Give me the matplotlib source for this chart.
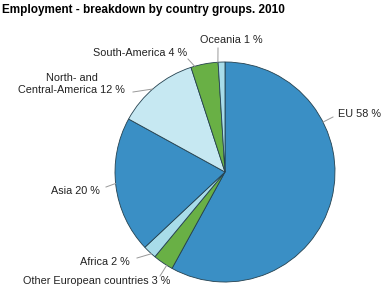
import numpy as np
import matplotlib.pyplot as plt

plt.rcParams['font.family'] = ['Liberation Sans', 'DejaVu Sans']

# data
groups = ['EU', 'Other European countries', 'Africa', 'Asia',
          'North- and\nCentral-America', 'South-America', 'Oceania']
shares = [58, 3, 2, 20, 12, 4, 1]
colors = ['#3a8fc5', '#69b045', '#a8dce9', '#3a8fc5', '#c6e8f2', '#69b045', '#a8dce9']

# label layout (pixel coords of the 381x290 canvas)
anchor_deg = [27, 238, 228, 186, 131, 106, 93.7]
tip = [(333, 117), (160, 276), (137, 258), (106, 187), (133, 92), (188, 59), (218, 48)]
text_xy = [(338, 114), (170, 281), (130, 262), (100, 191), (125, 84), (187, 53), (231, 40)]
text_ha = ['left', 'right', 'right', 'right', 'right', 'right', 'center']

W, H = 381, 290
cx, cy, R = 225, 172, 110

fig = plt.figure(figsize=(W / 100, H / 100), dpi=100)
ax = fig.add_axes([0, 0, 1, 1])
ax.axis('off')

ax.pie(shares, colors=colors, startangle=90, counterclock=False,
       center=(cx, H - cy), radius=R,
       wedgeprops=dict(edgecolor='#24414f', linewidth=0.6))
ax.set_xlim(0, W)
ax.set_ylim(0, H)
ax.set_aspect('equal')

for name, val, a, (tx, ty), (lx, ly), ha in zip(groups, shares, anchor_deg, tip, text_xy, text_ha):
    px = cx + R * np.cos(np.radians(a))
    py = (H - cy) + R * np.sin(np.radians(a))
    ax.plot([px, tx], [py, H - ty], color='#999999', lw=0.7)
    ax.text(lx, H - ly, f'{name} {val} %', ha=ha, va='center',
            fontsize=7.8, color='#222222', multialignment='center',
            linespacing=1.35)

fig.text(2 / W, 1 - 10 / H, 'Employment - breakdown by country groups. 2010',
         fontsize=8.5, fontweight='bold', va='center', ha='left')

fig.savefig('out.png', dpi=100)
